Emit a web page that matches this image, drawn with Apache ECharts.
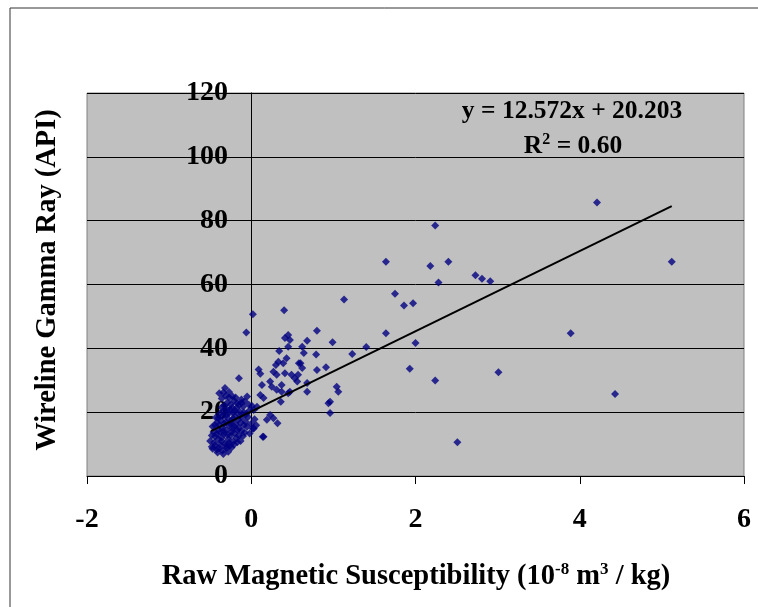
<!DOCTYPE html>
<html>
<head>
<meta charset="utf-8">
<script src="https://cdn.jsdelivr.net/npm/echarts@6/dist/echarts.min.js"></script>
<style>html,body{margin:0;padding:0;background:#fff;}#chart{width:758px;height:607px;}</style>
</head>
<body>
<div id="chart"></div>
<script>
// Dense cluster of low-susceptibility samples
var clusterPoints = [
[-0.45,10.5],[-0.48,9.2],[-0.42,8.3],[-0.38,9.8],[-0.35,8.0],[-0.32,10.2],[-0.30,8.8],[-0.40,11.6],
[-0.44,12.4],[-0.36,12.0],[-0.33,13.1],[-0.28,11.5],[-0.26,9.5],[-0.22,10.8],[-0.25,12.7],[-0.20,13.4],
[-0.18,11.9],[-0.46,13.8],[-0.40,14.6],[-0.35,15.2],[-0.30,14.3],[-0.27,15.8],[-0.23,14.9],[-0.19,16.1],
[-0.15,15.0],[-0.12,14.1],[-0.08,13.6],[-0.05,15.4],[0.02,14.8],[0.06,15.9],[-0.42,16.8],[-0.37,17.5],
[-0.33,16.4],[-0.29,18.2],[-0.24,17.3],[-0.20,18.8],[-0.16,17.6],[-0.11,18.4],[-0.07,17.0],[-0.38,19.6],
[-0.34,20.4],[-0.30,19.2],[-0.26,20.8],[-0.22,19.9],[-0.18,21.3],[-0.14,20.1],[-0.10,21.7],[-0.06,19.5],
[-0.03,22.3],[-0.33,22.1],[-0.29,23.0],[-0.25,22.4],[-0.21,23.6],[-0.17,22.8],[-0.12,24.0],[-0.36,24.3],
[-0.31,25.1],[-0.27,24.6],[-0.39,25.9],[-0.32,27.6],[-0.15,30.6],[-0.08,23.4],[-0.02,20.6],[0.01,21.9],
[-0.13,11.0],[-0.10,12.5],[-0.50,11.0],[-0.47,15.5],[-0.43,18.3],[-0.28,7.6],[-0.34,6.9],[-0.41,7.4],
[-0.02,13.3],[0.14,12.3],[-0.05,24.9],
[-0.47,8.5],[-0.44,9.6],[-0.39,8.7],[-0.36,10.9],[-0.31,9.3],[-0.27,10.4],[-0.24,8.9],[-0.21,9.9],
[-0.17,10.6],[-0.15,12.6],[-0.42,13.2],[-0.38,13.6],[-0.34,14.0],[-0.29,12.9],[-0.24,13.9],[-0.21,15.6],
[-0.17,14.4],[-0.13,16.7],[-0.09,15.9],[-0.44,15.9],[-0.39,16.0],[-0.31,16.9],[-0.26,16.6],[-0.22,17.9],
[-0.14,19.0],[-0.09,19.9],[-0.40,18.1],[-0.35,18.9],[-0.27,19.7],[-0.23,21.4],[-0.15,22.3],[-0.36,21.5],
[-0.30,21.0],[-0.27,26.3],[-0.23,25.0],[-0.19,24.6],[-0.34,26.2],[-0.19,20.3],[-0.12,22.9],[-0.48,12.7],
[0.00,16.4],[0.04,17.8],[-0.04,18.5]
];
// Samples between 0 and 1.5
var midPoints = [
[0.03,20.7],[0.07,21.7],[0.11,25.4],[0.15,24.4],[0.09,33.4],[0.11,32.0],[0.13,28.5],[0.02,50.7],
[-0.06,45.0],[0.45,44.2],[0.41,43.2],[0.47,42.6],[0.80,45.5],[0.68,42.4],[0.99,41.9],[0.62,40.5],
[0.45,40.5],[0.34,39.2],[0.64,38.5],[0.79,38.1],[0.43,36.9],[0.33,35.8],[0.30,34.8],[0.39,35.3],
[0.60,35.3],[0.62,33.8],[0.91,34.1],[0.80,33.2],[0.27,32.7],[0.31,31.7],[0.41,32.2],[0.49,31.7],
[0.57,31.7],[0.56,29.6],[0.23,29.6],[0.25,28.0],[0.37,28.5],[0.68,29.1],[0.68,26.4],[0.47,26.4],
[0.37,26.4],[0.31,27.0],[0.36,23.3],[1.04,28.0],[1.06,26.4],[0.96,23.3],[0.94,22.8],[0.96,19.7],
[0.23,19.1],[0.27,18.1],[0.19,17.6],[0.32,16.5],[0.03,14.9],[0.15,12.3],[0.40,51.9],[1.13,55.3],
[1.40,40.4],[1.23,38.2],[0.53,30.6],[0.58,35.3],[0.45,25.9]
];
// Higher-susceptibility samples
var highPoints = [
[4.21,85.7],[2.24,78.5],[1.64,67.1],[2.18,65.8],[2.40,67.1],[2.28,60.6],[2.73,62.9],[2.81,61.8],
[2.91,61.0],[5.12,67.1],[1.75,57.1],[1.86,53.4],[1.97,54.1],[1.64,44.7],[2.00,41.7],[3.89,44.7],
[1.93,33.6],[2.24,29.9],[3.01,32.5],[4.43,25.7],[2.51,10.6]
];
var trendSlope = 12.572;
var trendIntercept = 20.203;
var trendRangeX = [-0.49, 5.12];
var xTicks = { min: -2, max: 6, interval: 2 };
var yTicks = { min: 0, max: 120, interval: 20 };

var allPoints = clusterPoints.concat(midPoints, highPoints);
var trendData = trendRangeX.map(function (x) { return [x, trendSlope * x + trendIntercept]; });

var FONT = '"Liberation Serif","Times New Roman",serif';
var chart = echarts.init(document.getElementById('chart'), null, { renderer: 'canvas' });
chart.setOption({
  animation: false,
  backgroundColor: '#ffffff',
  grid: { left: 87, right: 14, top: 93, bottom: 131, show: true, backgroundColor: '#C0C0C0', borderColor: '#808080', borderWidth: 1 },
  xAxis: {
    type: 'value', min: xTicks.min, max: xTicks.max, interval: xTicks.interval,
    axisLine: { show: true, onZero: false, lineStyle: { color: '#000', width: 1 } },
    axisTick: { show: true, inside: false, length: 8, lineStyle: { color: '#000' } },
    splitLine: { show: false },
    axisLabel: { color: '#000', fontFamily: FONT, fontWeight: 'bold', fontSize: 28, margin: 30 }
  },
  yAxis: {
    type: 'value', min: yTicks.min, max: yTicks.max, interval: yTicks.interval,
    position: 'left', offset: -164,
    axisLine: { show: true, onZero: false, lineStyle: { color: '#000', width: 1 } },
    axisTick: { show: true, inside: false, length: 8, lineStyle: { color: '#000' } },
    splitLine: { show: true, lineStyle: { color: '#000', width: 1 } },
    axisLabel: { color: '#000', fontFamily: FONT, fontWeight: 'bold', fontSize: 28, margin: 23 }
  },
  series: [
    { type: 'scatter', data: allPoints, symbol: 'diamond', symbolSize: 8, itemStyle: { color: '#000080' }, z: 3 },
    { type: 'line', data: trendData, showSymbol: false, symbol: 'none', lineStyle: { color: '#000', width: 2 }, z: 4 }
  ],
  graphic: [
    { type: 'rect', shape: { x: 10, y: 8, width: 760, height: 620 }, style: { fill: 'none', stroke: '#333', lineWidth: 1 }, z: 100 },
    { type: 'text', x: 572, y: 111, style: { text: 'y = 12.572x + 20.203', fontFamily: FONT, fontWeight: 'bold', fontSize: 25.5, fill: '#000', align: 'center', verticalAlign: 'middle' }, z: 100 },
    { type: 'text', x: 573, y: 146, style: { text: '{a|R}{s|2}{a| = 0.60}', align: 'center', verticalAlign: 'middle',
        rich: { a: { fontFamily: FONT, fontWeight: 'bold', fontSize: 25.5, color: '#000' },
                s: { fontFamily: FONT, fontWeight: 'bold', fontSize: 16, color: '#000', padding: [0,0,12,0] } } }, z: 100 },
    { type: 'text', x: 48, y: 280, rotation: Math.PI / 2, style: { text: 'Wireline Gamma Ray (API)', fontFamily: FONT, fontWeight: 'bold', fontSize: 28.5, fill: '#000', align: 'center', verticalAlign: 'middle' }, z: 100 },
    { type: 'text', x: 416, y: 577, style: { text: '{a|Raw Magnetic Susceptibility (10}{s|-8}{a| m}{s|3}{a| / kg)}', align: 'center', verticalAlign: 'middle',
        rich: { a: { fontFamily: FONT, fontWeight: 'bold', fontSize: 28.5, color: '#000' },
                s: { fontFamily: FONT, fontWeight: 'bold', fontSize: 17, color: '#000', padding: [0,0,14,0] } } }, z: 100 }
  ]
});
</script>
</body>
</html>
